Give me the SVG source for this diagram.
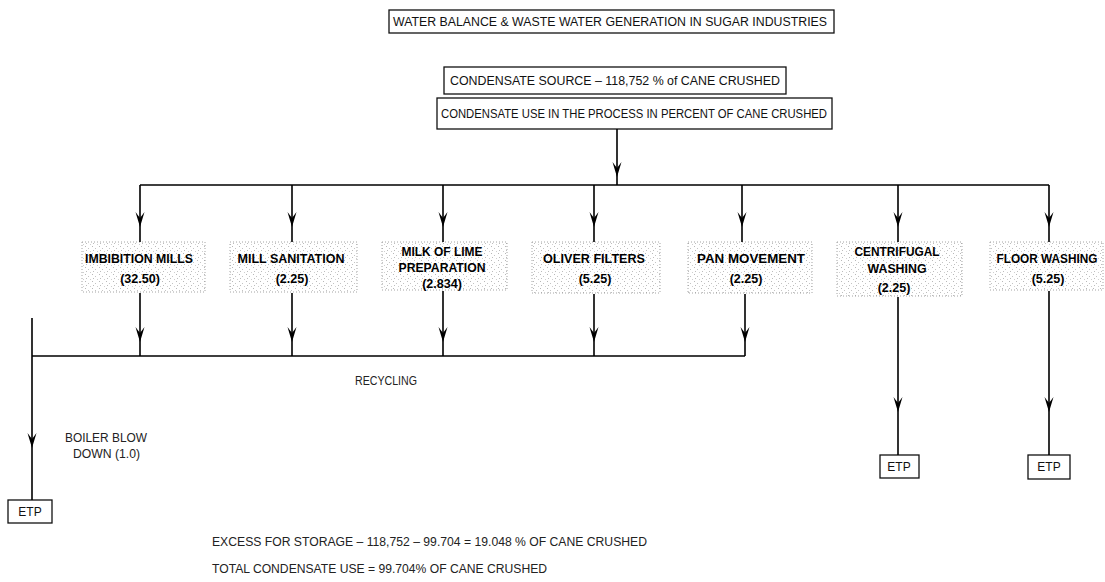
<svg xmlns="http://www.w3.org/2000/svg" width="1105" height="582" viewBox="0 0 1105 582">
  <style>
    .bg { fill: #ffffff; }
    .box { fill: #ffffff; stroke: #111; stroke-width: 1.3; }
    .node { fill: url(#stipple); stroke: #9a9a9a; stroke-width: 0.9; stroke-dasharray: 1 2; }
    .ln { fill: none; stroke: #000; stroke-width: 1.6; }
    .ttl { font-family: "Liberation Sans", Arial, sans-serif; font-size: 12px; fill: #111; }
    .lbl { font-family: "Liberation Sans", Arial, sans-serif; font-size: 12.5px; font-weight: bold; fill: #000; text-anchor: middle; }
    .note { font-family: "Liberation Sans", Arial, sans-serif; font-size: 12px; fill: #222; }
  </style>
  <defs>
    <pattern id="stipple" width="7" height="7" patternUnits="userSpaceOnUse">
      <rect width="7" height="7" fill="#ffffff"/>
      <rect x="1" y="1" width="1" height="1" fill="#b8b8b8"/>
      <rect x="4" y="3" width="1" height="1" fill="#c4c4c4"/>
      <rect x="2" y="5" width="1" height="1" fill="#bdbdbd"/>
      <rect x="6" y="6" width="1" height="1" fill="#cfcfcf"/>
    </pattern>
    <!-- barbed arrowhead, tip at origin, pointing down -->
    <path id="ah" d="M-4.5,-15 L0,-9 L4.5,-15 L0,0 Z" fill="#000"/>
  </defs>

  <rect class="bg" width="1105" height="582"/>

  <!-- header boxes -->
  <g id="title">
    <rect class="box" x="389" y="10" width="445" height="23"/>
    <text class="ttl" x="393" y="26" textLength="434" lengthAdjust="spacingAndGlyphs">WATER BALANCE &amp; WASTE WATER GENERATION IN SUGAR INDUSTRIES</text>
  </g>
  <g id="source">
    <rect class="box" x="444" y="67" width="342" height="27"/>
    <text class="ttl" x="450" y="85" textLength="330" lengthAdjust="spacingAndGlyphs">CONDENSATE SOURCE – 118,752 % of CANE CRUSHED</text>
  </g>
  <g id="use">
    <rect class="box" x="437" y="98" width="395" height="31"/>
    <text class="ttl" x="441" y="118" textLength="386" lengthAdjust="spacingAndGlyphs">CONDENSATE USE IN THE PROCESS IN PERCENT OF CANE CRUSHED</text>
  </g>

  <!-- process nodes -->
  <g id="imbibition">
    <rect class="node" x="82" y="242" width="123" height="50"/>
    <text class="lbl" x="139" y="263" textLength="108" lengthAdjust="spacingAndGlyphs">IMBIBITION MILLS</text>
    <text class="lbl" x="140" y="283">(32.50)</text>
  </g>
  <g id="mill-sanitation">
    <rect class="node" x="230" y="242" width="127" height="50"/>
    <text class="lbl" x="291" y="263" textLength="107" lengthAdjust="spacingAndGlyphs">MILL SANITATION</text>
    <text class="lbl" x="292" y="283">(2.25)</text>
  </g>
  <g id="milk-of-lime">
    <rect class="node" x="382" y="242" width="125" height="48"/>
    <text class="lbl" x="442" y="256" textLength="81" lengthAdjust="spacingAndGlyphs">MILK OF LIME</text>
    <text class="lbl" x="442" y="272" textLength="87" lengthAdjust="spacingAndGlyphs">PREPARATION</text>
    <text class="lbl" x="442" y="288">(2.834)</text>
  </g>
  <g id="oliver-filters">
    <rect class="node" x="532" y="242" width="128" height="51"/>
    <text class="lbl" x="594" y="263" textLength="102" lengthAdjust="spacingAndGlyphs">OLIVER FILTERS</text>
    <text class="lbl" x="595" y="283">(5.25)</text>
  </g>
  <g id="pan-movement">
    <rect class="node" x="688" y="242" width="124" height="51"/>
    <text class="lbl" x="751" y="263" textLength="108" lengthAdjust="spacingAndGlyphs">PAN MOVEMENT</text>
    <text class="lbl" x="746" y="283">(2.25)</text>
  </g>
  <g id="centrifugal-washing">
    <rect class="node" x="837" y="242" width="125" height="54"/>
    <text class="lbl" x="897" y="256" textLength="85" lengthAdjust="spacingAndGlyphs">CENTRIFUGAL</text>
    <text class="lbl" x="897" y="273" textLength="59" lengthAdjust="spacingAndGlyphs">WASHING</text>
    <text class="lbl" x="894" y="292">(2.25)</text>
  </g>
  <g id="floor-washing">
    <rect class="node" x="990" y="242" width="113" height="48"/>
    <text class="lbl" x="1047" y="263" textLength="101" lengthAdjust="spacingAndGlyphs">FLOOR WASHING</text>
    <text class="lbl" x="1048" y="283">(5.25)</text>
  </g>

  <!-- effluent treatment boxes -->
  <g id="etp-boiler">
    <rect class="box" x="8" y="500" width="44" height="23"/>
    <text class="ttl" x="30" y="516" text-anchor="middle">ETP</text>
  </g>
  <g id="etp-centrifugal">
    <rect class="box" x="880" y="455" width="39" height="23"/>
    <text class="ttl" x="899" y="471" text-anchor="middle">ETP</text>
  </g>
  <g id="etp-floor">
    <rect class="box" x="1028" y="455" width="42" height="24"/>
    <text class="ttl" x="1049" y="471" text-anchor="middle">ETP</text>
  </g>

  <!-- connectors -->
  <g id="connectors">
    <path class="ln" d="M617,129 V185 M140,185 H1049"/>
    <use href="#ah" x="617" y="177"/>
    <path class="ln" d="M140,185 V242 M292,185 V242 M443,185 V242 M594,185 V242 M742,185 V242 M898,185 V242 M1049,185 V242"/>
    <use href="#ah" x="140" y="227"/>
    <use href="#ah" x="292" y="227"/>
    <use href="#ah" x="443" y="227"/>
    <use href="#ah" x="594" y="227"/>
    <use href="#ah" x="742" y="227"/>
    <use href="#ah" x="898" y="227"/>
    <use href="#ah" x="1049" y="227"/>

    <!-- recycling return -->
    <path class="ln" d="M140,293 V356 M292,293 V356 M443,291 V356 M594,294 V356 M745,294 V356 M32,356 H745"/>
    <use href="#ah" x="140" y="342"/>
    <use href="#ah" x="292" y="342"/>
    <use href="#ah" x="443" y="342"/>
    <use href="#ah" x="594" y="342"/>
    <use href="#ah" x="745" y="342"/>

    <!-- blow down and washing discharges -->
    <path class="ln" d="M32,318 V500 M898,297 V455 M1049,291 V455"/>
    <use href="#ah" x="32" y="448"/>
    <use href="#ah" x="898" y="412"/>
    <use href="#ah" x="1049" y="412"/>
  </g>

  <!-- free labels -->
  <text class="note" x="386" y="385" text-anchor="middle" textLength="62" lengthAdjust="spacingAndGlyphs">RECYCLING</text>
  <text class="note" x="65" y="442" textLength="82" lengthAdjust="spacingAndGlyphs">BOILER BLOW</text>
  <text class="note" x="73" y="458" textLength="67" lengthAdjust="spacingAndGlyphs">DOWN (1.0)</text>
  <text class="note" x="212" y="546" textLength="435" lengthAdjust="spacingAndGlyphs">EXCESS FOR STORAGE – 118,752 – 99.704 = 19.048 % OF CANE CRUSHED</text>
  <text class="note" x="212" y="573" textLength="335" lengthAdjust="spacingAndGlyphs">TOTAL CONDENSATE USE = 99.704%  OF CANE CRUSHED</text>
</svg>
